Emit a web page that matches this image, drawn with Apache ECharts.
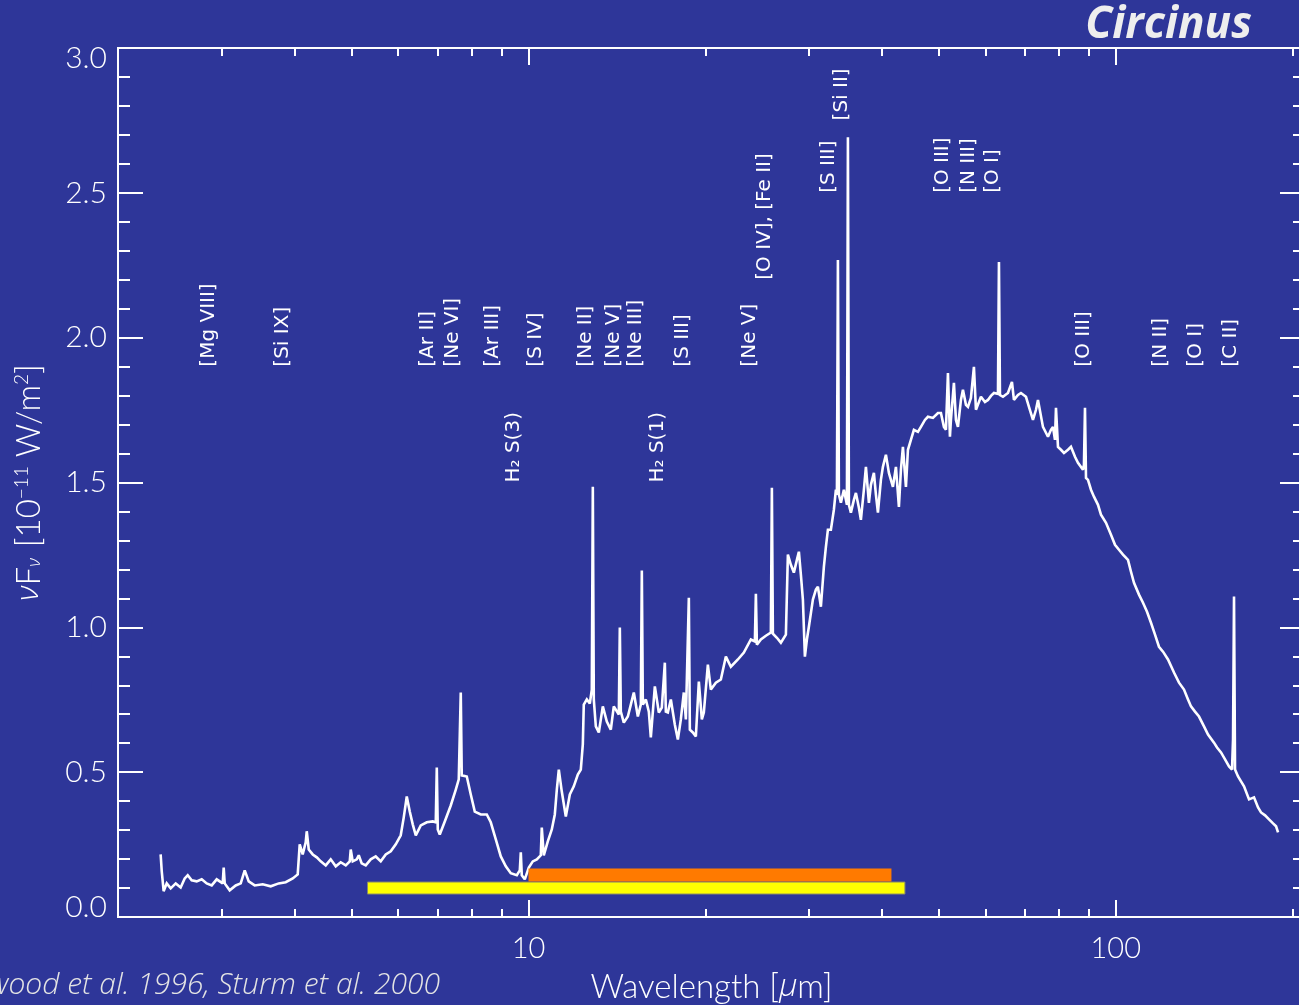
<!DOCTYPE html>
<html>
<head>
<meta charset="utf-8">
<script src="https://cdn.jsdelivr.net/npm/echarts@6/dist/echarts.min.js"></script>
<style>
  html, body { margin: 0; padding: 0; background: #2e3699; }
  #chart { width: 1299px; height: 1005px; }
</style>
</head>
<body>
<div id="chart"></div>
<script>
// Circinus mid/far-infrared spectrum: wavelength (micron) and nu*F_nu (1e-11 W/m^2)
const wavelength = [
  2.364,2.374,2.392,2.421,2.459,2.508,2.557,2.598,2.629,2.670,
  2.723,2.777,2.832,2.888,2.945,3.015,3.027,3.039,3.099,3.173,
  3.236,3.287,3.339,3.418,3.527,3.640,3.756,3.860,3.968,4.046,
  4.078,4.126,4.175,4.192,4.225,4.292,4.360,4.428,4.516,4.605,
  4.697,4.789,4.885,4.962,4.981,5.020,5.100,5.140,5.200,5.283,
  5.387,5.494,5.603,5.714,5.827,5.943,6.060,6.132,6.205,6.278,
  6.352,6.428,6.555,6.711,6.871,6.952,6.980,7.007,7.062,7.202,
  7.373,7.520,7.608,7.668,7.698,7.851,7.975,8.101,8.294,8.492,
  8.625,8.797,8.971,9.149,9.329,9.552,9.665,9.703,9.741,9.856,
  10.012,10.170,10.332,10.494,10.535,10.618,10.787,10.957,11.087,11.175,
  11.262,11.395,11.576,11.759,11.944,12.134,12.277,12.374,12.421,12.570,
  12.718,12.818,12.869,12.918,13.021,13.175,13.383,13.595,13.810,13.972,
  14.250,14.306,14.362,14.531,14.763,14.937,15.113,15.353,15.534,15.595,
  15.657,15.843,16.029,16.155,16.412,16.670,16.867,17.068,17.135,17.270,
  17.474,17.751,17.961,18.173,18.387,18.534,18.752,18.826,19.049,19.275,
  19.502,19.732,19.887,20.204,20.442,20.848,21.259,21.682,22.110,22.727,
  23.265,23.914,24.293,24.389,24.485,24.870,25.364,25.865,25.967,26.070,
  26.483,26.900,27.434,27.650,27.976,28.305,28.644,28.868,29.095,29.325,
  29.556,29.789,30.022,30.498,30.860,31.103,31.469,31.840,32.094,32.347,
  32.728,33.113,33.378,33.509,33.641,33.771,34.037,34.438,34.850,34.987,
  35.122,35.398,35.816,36.101,36.527,36.814,37.248,37.546,37.988,38.287,
  38.738,39.047,39.355,39.818,40.133,40.609,41.088,41.739,42.234,42.731,
  43.068,43.408,43.923,44.269,44.790,45.318,46.040,46.582,47.321,47.881,
  48.828,49.797,50.383,50.977,51.384,51.789,52.194,52.398,53.016,53.439,
  53.860,54.494,54.925,55.576,56.014,56.674,57.342,57.800,58.941,59.876,
  60.585,61.299,62.021,63.009,63.253,63.502,64.255,65.529,66.560,67.082,
  68.150,68.953,70.322,71.151,72.278,73.135,73.711,75.169,76.660,77.562,
  78.176,78.792,79.103,79.726,80.665,81.615,82.915,83.891,85.222,86.232,
  87.937,88.275,88.630,88.980,89.681,90.737,91.806,93.268,94.366,96.240,
  98.141,99.697,101.27,102.87,104.91,106.15,107.40,109.53,111.27,113.03,
  114.81,116.63,118.47,120.35,122.73,125.64,128.14,130.67,132.75,134.31,
  136.44,138.59,141.33,143.58,146.98,148.74,151.08,153.48,155.90,157.74,
  158.37,158.98,159.62,161.51,163.41,165.34,168.62,171.95,174.69,176.75,
  179.55,182.38,185.27,187.47,188.94
];
const flux = [
  0.216,0.158,0.089,0.116,0.099,0.116,0.102,0.133,0.144,0.127,
  0.123,0.130,0.116,0.109,0.130,0.116,0.171,0.116,0.092,0.109,
  0.116,0.161,0.123,0.109,0.113,0.106,0.116,0.120,0.133,0.147,
  0.251,0.216,0.258,0.296,0.233,0.216,0.206,0.192,0.178,0.199,
  0.175,0.189,0.178,0.192,0.233,0.192,0.199,0.213,0.185,0.178,
  0.199,0.209,0.192,0.216,0.227,0.251,0.282,0.344,0.416,0.364,
  0.320,0.282,0.316,0.327,0.330,0.327,0.516,0.302,0.285,0.330,
  0.385,0.440,0.475,0.775,0.489,0.485,0.423,0.364,0.354,0.354,
  0.327,0.268,0.209,0.175,0.151,0.144,0.161,0.223,0.144,0.130,
  0.171,0.192,0.199,0.213,0.309,0.213,0.261,0.302,0.354,0.440,
  0.509,0.433,0.347,0.423,0.451,0.492,0.509,0.596,0.733,0.751,
  0.737,0.785,1.485,0.751,0.658,0.637,0.727,0.675,0.647,0.727,
  0.699,0.999,0.709,0.671,0.692,0.733,0.775,0.692,0.733,1.196,
  0.733,0.751,0.709,0.620,0.796,0.706,0.723,0.878,0.709,0.706,
  0.751,0.664,0.613,0.682,0.775,0.682,1.102,0.647,0.637,0.623,
  0.813,0.682,0.706,0.871,0.785,0.809,0.820,0.899,0.864,0.889,
  0.913,0.958,0.951,1.116,0.940,0.958,0.971,0.982,1.482,0.978,
  0.964,0.947,0.975,1.251,1.216,1.189,1.233,1.261,1.182,1.096,
  0.899,0.958,1.002,1.096,1.130,1.140,1.071,1.209,1.278,1.337,
  1.337,1.406,1.475,1.458,2.268,1.458,1.430,1.475,1.423,2.692,
  1.423,1.396,1.440,1.464,1.413,1.371,1.475,1.554,1.430,1.492,
  1.533,1.458,1.396,1.509,1.554,1.596,1.533,1.485,1.554,1.416,
  1.544,1.623,1.485,1.613,1.647,1.682,1.675,1.692,1.716,1.727,
  1.723,1.740,1.740,1.692,1.682,1.878,1.658,1.716,1.844,1.716,
  1.692,1.785,1.820,1.768,1.761,1.792,1.899,1.751,1.796,1.778,
  1.785,1.799,1.809,1.806,2.261,1.802,1.796,1.809,1.847,1.785,
  1.802,1.809,1.796,1.761,1.716,1.751,1.785,1.692,1.658,1.682,
  1.692,1.647,1.758,1.623,1.613,1.602,1.613,1.623,1.589,1.568,
  1.544,1.561,1.758,1.516,1.509,1.475,1.451,1.423,1.389,1.361,
  1.320,1.285,1.268,1.251,1.233,1.192,1.154,1.113,1.085,1.054,
  1.016,0.975,0.933,0.916,0.889,0.844,0.809,0.785,0.751,0.727,
  0.709,0.692,0.658,0.630,0.602,0.585,0.568,0.544,0.520,0.509,
  0.613,1.106,0.509,0.485,0.468,0.451,0.406,0.413,0.378,0.361,
  0.351,0.337,0.323,0.313,0.292
];

// Line identifications: text, wavelength where the label sits, flux level where it starts
const lineLabels = [
  '[Mg VIII]', '[Si IX]', '[Ar II]', '[Ne VI]', '[Ar III]', 'H\u2082 S(3)', '[S IV]',
  '[Ne II]', '[Ne V]', '[Ne III]', 'H\u2082 S(1)', '[S III]', '[Ne V]', '[O IV], [Fe II]',
  '[S III]', '[Si II]', '[O III]', '[N III]', '[O I]', '[O III]', '[N II]', '[O I]', '[C II]'
];
const labelWavelength = [
  2.854, 3.811, 6.738, 7.431, 8.694, 9.439, 10.278,
  12.52, 13.97, 15.23, 16.61, 18.29, 23.82, 25.26,
  32.41, 34.17, 50.72, 56.23, 61.78, 88.28, 119.4, 137.0, 156.9
];
const labelLevel = [
  1.9, 1.9, 1.9, 1.9, 1.9, 1.5, 1.9,
  1.9, 1.9, 1.9, 1.5, 1.9, 1.9, 2.2,
  2.5, 2.75, 2.5, 2.5, 2.5, 1.9, 1.9, 1.9, 1.9
];

// Instrument coverage bands (micron range, flux level of the bar centre)
const bandStart = [5.32, 10.0];
const bandEnd = [43.75, 41.5];
const bandLevel = [0.10, 0.145];

// Axis ticks
const xMajorTicks = [10, 100];
const xMinorTicks = [3, 4, 5, 6, 7, 8, 9, 20, 30, 40, 50, 60, 70, 80, 90, 200];
const xRange = [2, 210];
const yRange = [0, 3];

const bandColors = ['#ffff00', '#ff7a00'];
const bandHeights = [12, 13];
const bandStrokes = ['#8a8a6a', null];

const WHITE = '#ffffff';
const tickFont = 'Lato';
const greekFont = '"Open Sans"';

function xAxisDef(position, ticks, len, withLabels) {
  const ax = {
    type: 'log', logBase: 10, min: xRange[0], max: xRange[1], position: position,
    axisLine: { show: true, onZero: false, lineStyle: { color: WHITE, width: 2 } },
    axisTick: { show: true, inside: true, length: len, customValues: ticks,
                lineStyle: { color: WHITE, width: 2 } },
    axisLabel: { show: false },
    splitLine: { show: false }, minorTick: { show: false }, minorSplitLine: { show: false }
  };
  if (withLabels) {
    ax.axisLabel = {
      show: true, customValues: ticks, formatter: v => String(Math.round(v)),
      color: WHITE, fontFamily: tickFont, fontWeight: 300, fontSize: 29,
      margin: 17, lineHeight: 30
    };
    ax.name = 'Wavelength [{g|\u00b5}m]';
    ax.nameLocation = 'middle';
    ax.nameGap = 52;
    ax.nameTextStyle = {
      color: WHITE, fontFamily: tickFont, fontWeight: 300, fontSize: 33, lineHeight: 36,
      rich: { g: { color: WHITE, fontFamily: greekFont, fontStyle: 'italic', fontWeight: 300, fontSize: 32, lineHeight: 36 } }
    };
  }
  return ax;
}

function yAxisDef(position, interval, len, withLabels) {
  const ax = {
    type: 'value', min: yRange[0], max: yRange[1], interval: interval, position: position,
    axisLine: { show: true, onZero: false, lineStyle: { color: WHITE, width: 2 } },
    axisTick: { show: true, inside: true, length: len, lineStyle: { color: WHITE, width: 2 } },
    axisLabel: { show: false },
    splitLine: { show: false }
  };
  if (withLabels) {
    ax.axisLabel = {
      show: true, formatter: v => v.toFixed(1),
      color: WHITE, fontFamily: tickFont, fontWeight: 300, fontSize: 30,
      margin: 11, lineHeight: 20,
      verticalAlignMinLabel: 'bottom', verticalAlignMaxLabel: 'top'
    };
    ax.name = '{g|\u03bd}F{s|\u03bd} [10{p|\u221211} W/m{p|2}]';
    ax.nameLocation = 'middle';
    ax.nameGap = 70;
    ax.nameTextStyle = {
      color: WHITE, fontFamily: tickFont, fontWeight: 300, fontSize: 33, lineHeight: 38,
      rich: {
        g: { color: WHITE, fontFamily: greekFont, fontStyle: 'italic', fontWeight: 300, fontSize: 32, lineHeight: 38 },
        s: { color: WHITE, fontFamily: greekFont, fontStyle: 'italic', fontWeight: 300, fontSize: 18, lineHeight: 38, verticalAlign: 'bottom', padding: [0, 2, 4, 0] },
        p: { color: WHITE, fontFamily: tickFont, fontWeight: 300, fontSize: 19, lineHeight: 38, verticalAlign: 'top', padding: [2, 0, 0, 0] }
      }
    };
  }
  return ax;
}

const chart = echarts.init(document.getElementById('chart'), null, { renderer: 'canvas' });

const option = {
  backgroundColor: '#2e3699',
  animation: false,
  grid: { left: 118, top: 48, width: 1187, height: 869, containLabel: false, outerBoundsMode: 'none' },
  xAxis: [
    xAxisDef('bottom', xMajorTicks, 17, true),
    xAxisDef('bottom', xMinorTicks, 8, false),
    xAxisDef('top', xMajorTicks, 17, false),
    xAxisDef('top', xMinorTicks, 8, false)
  ],
  yAxis: [
    yAxisDef('left', 0.5, 25, true),
    yAxisDef('left', 0.1, 12, false),
    yAxisDef('right', 0.5, 25, false),
    yAxisDef('right', 0.1, 12, false)
  ],
  graphic: [
    { type: 'text', x: 1252, y: 25, z: 10,
      style: { text: 'Circinus', align: 'right', verticalAlign: 'middle',
               font: 'italic bold 44px "Open Sans"', fill: '#eeeeee' } },
    { type: 'text', x: 440, y: 985, z: 10,
      style: { text: 'Moorwood et al. 1996, Sturm et al. 2000', align: 'right', verticalAlign: 'middle',
               font: 'italic 300 30px "Open Sans"', fill: '#e4e4e4' } }
  ],
  series: [
    {
      name: 'spectrum', type: 'line', xAxisIndex: 0, yAxisIndex: 0,
      data: wavelength.map((w, i) => [w, flux[i]]),
      showSymbol: false, symbol: 'none', smooth: false, sampling: null,
      lineStyle: { color: WHITE, width: 2.6, join: 'miter', miterLimit: 2 }, z: 3, silent: true
    },
    {
      name: 'coverage', type: 'custom', xAxisIndex: 0, yAxisIndex: 0,
      data: bandStart.map((s, i) => [s, bandEnd[i], bandLevel[i]]),
      encode: { x: [0, 1], y: 2 },
      renderItem: (params, api) => {
        const i = params.dataIndex;
        const a = api.coord([api.value(0), api.value(2)]);
        const b = api.coord([api.value(1), api.value(2)]);
        const h = bandHeights[i];
        return {
          type: 'rect',
          shape: { x: a[0], y: a[1] - h / 2, width: b[0] - a[0], height: h },
          style: { fill: bandColors[i], stroke: bandStrokes[i], lineWidth: bandStrokes[i] ? 1 : 0 }
        };
      },
      z: 4, silent: true
    },
    {
      name: 'lines', type: 'custom', xAxisIndex: 0, yAxisIndex: 0,
      data: labelWavelength.map((w, i) => [w, labelLevel[i]]),
      encode: { x: 0, y: 1 },
      clip: false,
      renderItem: (params, api) => {
        const p = api.coord([api.value(0), api.value(1)]);
        return {
          type: 'text', x: p[0], y: p[1], rotation: Math.PI / 2,
          style: { text: lineLabels[params.dataIndex], fill: WHITE,
                   font: '20px "DejaVu Sans"', align: 'left', verticalAlign: 'middle' }
        };
      },
      z: 5, silent: true
    }
  ]
};

chart.setOption(option);
</script>
</body>
</html>
